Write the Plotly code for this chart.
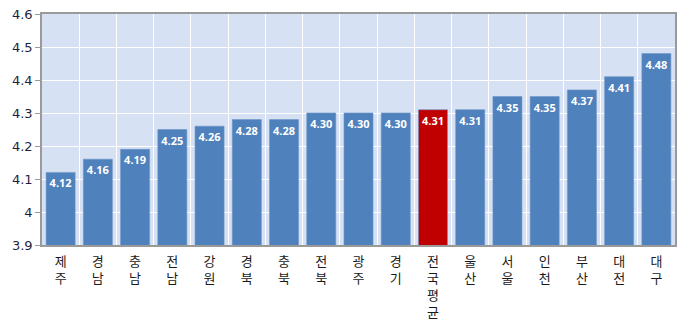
import plotly.graph_objects as go

regions = ["제주", "경남", "충남", "전남", "강원", "경북", "충북", "전북", "광주", "경기",
           "전국평균", "울산", "서울", "인천", "부산", "대전", "대구"]
scores = [4.12, 4.16, 4.19, 4.25, 4.26, 4.28, 4.28, 4.30, 4.30, 4.30,
          4.31, 4.31, 4.35, 4.35, 4.37, 4.41, 4.48]
y_ticks = [3.9, 4.0, 4.1, 4.2, 4.3, 4.4, 4.5, 4.6]
y_tick_text = ["3.9", "4", "4.1", "4.2", "4.3", "4.4", "4.5", "4.6"]

colors = ["#C00000" if r == "전국평균" else "#4F81BD" for r in regions]
tick_labels = ["<br>".join(list(r)) for r in regions]

fig = go.Figure(go.Bar(
    x=regions,
    y=scores,
    marker=dict(color=colors, line=dict(color="#6F95C8", width=0.6)),
    width=0.78,
    text=[f"{v:.2f}" for v in scores],
    textposition="inside",
    insidetextanchor="end",
    textangle=0,
    textfont=dict(family="Open Sans", size=11, color="white", weight="bold"),
    cliponaxis=False,
))

fig.update_layout(
    width=685, height=324,
    margin=dict(l=42, r=10, t=14, b=79),
    paper_bgcolor="white",
    plot_bgcolor="#D6E2F3",
    showlegend=False,
    uniformtext=dict(minsize=8, mode="show"),
)
fig.update_xaxes(
    tickmode="array", tickvals=regions, ticktext=tick_labels,
    tickson="boundaries", ticks="", showgrid=True, gridcolor="white", gridwidth=1.2,
    showline=True, linecolor="#9A9A9A", linewidth=1.5, mirror=True,
    tickfont=dict(family="Noto Sans CJK KR", size=13, color="#1a1a1a"),
    tickangle=0, automargin=False, ticklabelstandoff=4,
)
fig.update_yaxes(
    range=[3.9, 4.6], tickvals=y_ticks, ticktext=y_tick_text,
    showgrid=True, gridcolor="white", gridwidth=1.2,
    ticks="outside", ticklen=5, tickcolor="#9A9A9A",
    showline=True, linecolor="#9A9A9A", linewidth=1.5, mirror=True,
    tickfont=dict(family="DejaVu Sans", size=13, color="#1F1F3F"),
    zeroline=False, automargin=False,
)

fig.write_html("out.html")
